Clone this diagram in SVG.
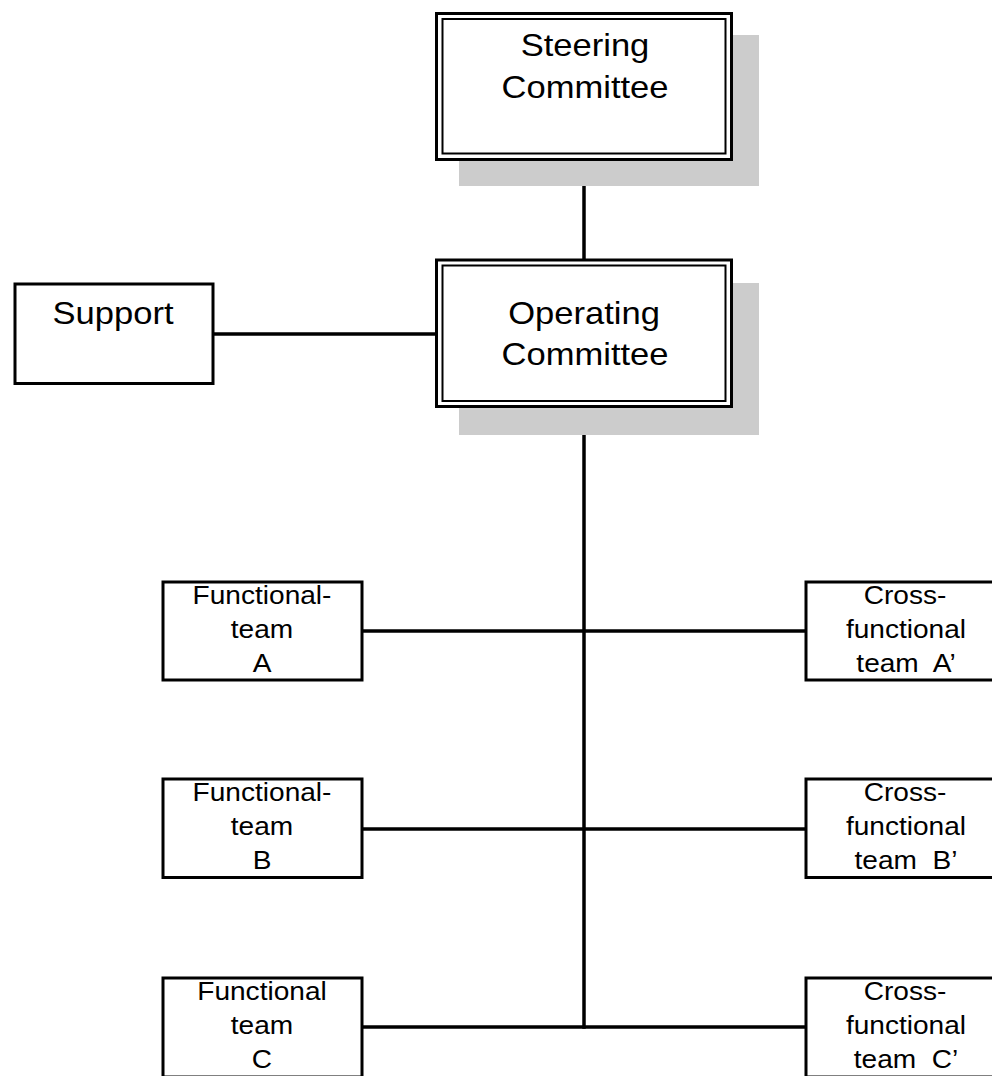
<svg xmlns="http://www.w3.org/2000/svg" width="992" height="1076" viewBox="0 0 992 1076">
<style>
.shadow{fill:#cccccc}
.outer{fill:#ffffff;stroke:#000;stroke-width:3}
.inner{fill:none;stroke:#000;stroke-width:2}
.box{fill:#ffffff;stroke:#000;stroke-width:3}
.conn{stroke:#000;stroke-width:3.5;fill:none}
.big{font-family:"Liberation Sans",Arial,sans-serif;font-size:32px;text-anchor:middle;fill:#000}
.small{font-family:"Liberation Sans",Arial,sans-serif;font-size:26px;text-anchor:middle;fill:#000}
</style>
<rect width="992" height="1076" fill="#ffffff"/>
<g id="connectors">
<line class="conn" x1="584" y1="158" x2="584" y2="260"/>
<line class="conn" x1="213" y1="334" x2="436" y2="334"/>
<line class="conn" x1="584" y1="406" x2="584" y2="1028.75"/>
<line class="conn" x1="362" y1="631" x2="806" y2="631"/>
<line class="conn" x1="362" y1="829" x2="806" y2="829"/>
<line class="conn" x1="362" y1="1027" x2="806" y2="1027"/>
</g>
<g id="steering">
<rect class="shadow" x="459" y="35" width="300" height="151"/>
<rect class="outer" x="436.5" y="13.5" width="295" height="146"/>
<rect class="inner" x="442.5" y="19" width="283" height="134.5"/>
<text class="big" transform="translate(585,56) scale(1.08,1)">Steering</text>
<text class="big" transform="translate(585,98) scale(1.08,1)">Committee</text>
</g>
<g id="operating">
<rect class="shadow" x="459" y="283" width="300" height="152"/>
<rect class="outer" x="436.5" y="260" width="295" height="146.5"/>
<rect class="inner" x="442.5" y="265.5" width="283" height="135.5"/>
<text class="big" transform="translate(584,324) scale(1.08,1)">Operating</text>
<text class="big" transform="translate(585,365) scale(1.08,1)">Committee</text>
</g>
<g id="support">
<rect class="box" x="15" y="284" width="198" height="99.5"/>
<text class="big" transform="translate(113,324) scale(1.08,1)">Support</text>
</g>
<g id="functional-a">
<rect class="box" x="163" y="582" width="199" height="98"/>
<text class="small" transform="translate(262,604) scale(1.08,1)">Functional-</text>
<text class="small" transform="translate(262,638) scale(1.08,1)">team</text>
<text class="small" transform="translate(262,672) scale(1.08,1)">A</text>
</g>
<g id="functional-b">
<rect class="box" x="163" y="779" width="199" height="98.5"/>
<text class="small" transform="translate(262,801) scale(1.08,1)">Functional-</text>
<text class="small" transform="translate(262,835) scale(1.08,1)">team</text>
<text class="small" transform="translate(262,869) scale(1.08,1)">B</text>
</g>
<g id="functional-c">
<rect class="box" x="163" y="978" width="199" height="99"/>
<text class="small" transform="translate(262,1000) scale(1.08,1)">Functional</text>
<text class="small" transform="translate(262,1034) scale(1.08,1)">team</text>
<text class="small" transform="translate(262,1068) scale(1.08,1)">C</text>
</g>
<g id="cross-a">
<rect class="box" x="806" y="582" width="200" height="98"/>
<text class="small" transform="translate(905,604) scale(1.08,1)">Cross-</text>
<text class="small" transform="translate(906,638) scale(1.08,1)">functional</text>
<text class="small" transform="translate(906,672) scale(1.08,1)">team&#160; A’</text>
</g>
<g id="cross-b">
<rect class="box" x="806" y="779" width="200" height="98.5"/>
<text class="small" transform="translate(905,801) scale(1.08,1)">Cross-</text>
<text class="small" transform="translate(906,835) scale(1.08,1)">functional</text>
<text class="small" transform="translate(906,869) scale(1.08,1)">team&#160; B’</text>
</g>
<g id="cross-c">
<rect class="box" x="806" y="978" width="200" height="99"/>
<text class="small" transform="translate(905,1000) scale(1.08,1)">Cross-</text>
<text class="small" transform="translate(906,1034) scale(1.08,1)">functional</text>
<text class="small" transform="translate(906,1068) scale(1.08,1)">team&#160; C’</text>
</g>
</svg>
